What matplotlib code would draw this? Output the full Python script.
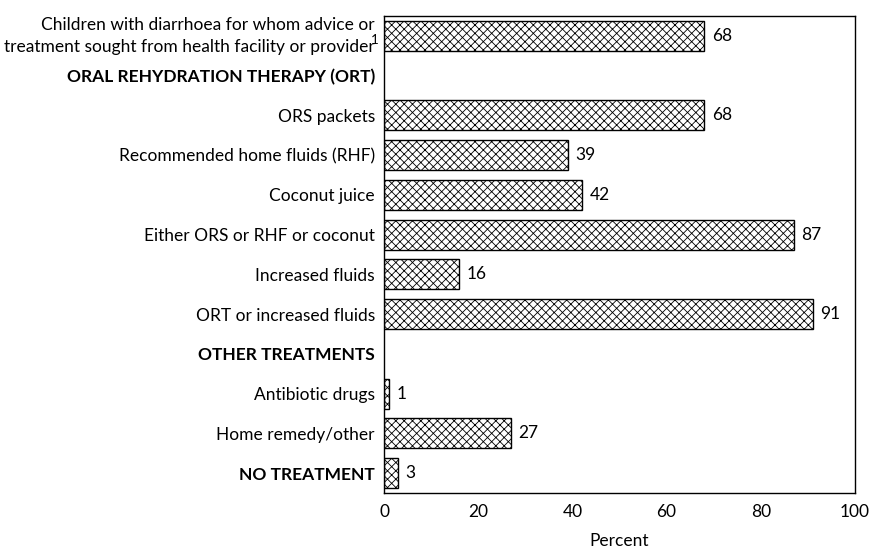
import numpy as np
import matplotlib.pyplot as plt

plt.rcParams['font.family'] = ['Lato', 'DejaVu Sans']
plt.rcParams['hatch.linewidth'] = 0.6

labels = ['Children with diarrhoea for whom advice or\ntreatment sought from health facility or provider',
          'ORAL REHYDRATION THERAPY (ORT)',
          'ORS packets',
          'Recommended home fluids (RHF)',
          'Coconut juice',
          'Either ORS or RHF or coconut',
          'Increased fluids',
          'ORT or increased fluids',
          'OTHER TREATMENTS',
          'Antibiotic drugs',
          'Home remedy/other',
          'NO TREATMENT']
values = [68, None, 68, 39, 42, 87, 16, 91, None, 1, 27, 3]
bold = [False, True, False, False, False, False, False, False, True, False, False, True]

fig = plt.figure(figsize=(8.77, 5.48), dpi=100)
ax = fig.add_axes([384/877, 1-493/548, 471/877, 477/548])

fs = 12.5
y = np.arange(len(labels))
for i, v in enumerate(values):
    if v is None:
        continue
    ax.barh(y[i], v, height=0.76, color='white', edgecolor='black',
            hatch='xxxx', linewidth=1.0)
    ax.text(v + 1.6, y[i], str(v), va='center', ha='left', fontsize=fs)

ax.set_ylim(len(labels) - 0.5, -0.5)
ax.set_xlim(0, 100)
ax.set_xticks([0, 20, 40, 60, 80, 100])
ax.tick_params(axis='x', length=0, labelsize=fs, pad=8)
ax.set_yticks(y)
# first (two-line) label drawn by hand so the line spacing can be set
ax.set_yticklabels([''] + labels[1:], fontsize=fs)
ax.tick_params(axis='y', length=0, pad=6.5)
for lab, b in zip(ax.get_yticklabels(), bold):
    if b:
        lab.set_fontweight('bold')
ax.annotate(labels[0], xy=(0, y[0]), xycoords=('axes fraction', 'data'),
            xytext=(-6.5, 0), textcoords='offset points',
            ha='right', va='center', fontsize=fs, linespacing=1.5)
ax.annotate('1', xy=(0, y[0]), xycoords=('axes fraction', 'data'),
            xytext=(-7, -3), textcoords='offset points',
            ha='center', va='center', fontsize=9.5)
ax.set_xlabel('Percent', fontsize=fs, labelpad=9)
for s in ax.spines.values():
    s.set_linewidth(1.0)

fig.text(0.006, -0.03, 'Note: ORT includes solution prepared from ORS packets and', fontsize=fs, va='bottom')

fig.savefig('out.png', dpi=100)
